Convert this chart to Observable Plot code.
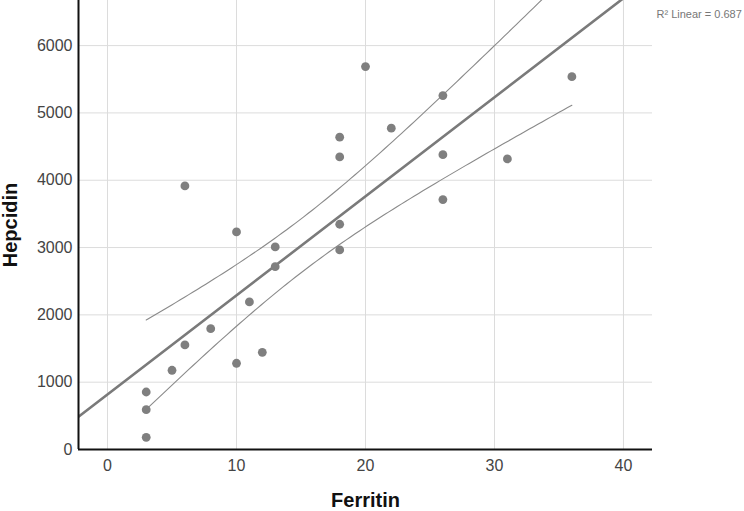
<!DOCTYPE html>
<html>
<head>
<meta charset="utf-8">
<script src="https://cdn.jsdelivr.net/npm/d3@7"></script>
<script src="https://cdn.jsdelivr.net/npm/@observablehq/plot@0.6"></script>
<style>
  html, body { margin: 0; padding: 0; background: #fff; }
  svg { display: block; font-family: "Liberation Sans", Arial, sans-serif; }
</style>
</head>
<body>
<div id="chart"></div>
<script>
// Data
const ferritin = [3, 3, 3, 5, 6, 6, 8, 10, 10, 11, 12, 13, 13, 18, 18, 18, 18, 20, 22, 26, 26, 26, 31, 36];
const hepcidin = [181, 591, 854, 1177, 1553, 3915, 1795, 3232, 1281, 2192, 1444, 3009, 2716, 4639, 4346, 3346, 2964, 5688, 4773, 5257, 4380, 3712, 4316, 5539];
const xTicks = [0, 10, 20, 30, 40];
const yTicks = [0, 1000, 2000, 3000, 4000, 5000, 6000];
const xDomain = [-2.25, 42.25];
const yDomain = [0, 6670];
const xLabel = "Ferritin";
const yLabel = "Hepcidin";
const r2Label = "R\u00B2 Linear = 0.687";
const tCrit = 2.074; // t(0.975, df = 22)

const data = ferritin.map((x, i) => ({x, y: hepcidin[i]}));

// Least-squares fit and 95% mean confidence band
const n = data.length;
const xbar = d3.mean(ferritin), ybar = d3.mean(hepcidin);
const Sxx = d3.sum(ferritin, x => (x - xbar) ** 2);
const Sxy = d3.sum(data, d => (d.x - xbar) * (d.y - ybar));
const b = Sxy / Sxx, a = ybar - b * xbar;
const sse = d3.sum(data, d => (d.y - (a + b * d.x)) ** 2);
const s = Math.sqrt(sse / (n - 2));
const fitLine = xDomain.map(x => ({x, y: a + b * x}));
const [xmin, xmax] = d3.extent(ferritin);
const xs = d3.range(0, 101).map(i => xmin + (xmax - xmin) * i / 100);
const ciUpper = xs.map(x => ({x, y: a + b * x + tCrit * s * Math.sqrt(1 / n + (x - xbar) ** 2 / Sxx)}));
const ciLower = xs.map(x => ({x, y: a + b * x - tCrit * s * Math.sqrt(1 / n + (x - xbar) ** 2 / Sxx)}));

const chart = Plot.plot({
  width: 744,
  height: 511,
  marginLeft: 78,
  marginRight: 92,
  marginTop: 0,
  marginBottom: 62,
  style: {fontFamily: "Liberation Sans, Arial, sans-serif", background: "#fff"},
  x: {domain: xDomain},
  y: {domain: yDomain},
  marks: [
    Plot.gridX(xTicks, {stroke: "#dcdcdc", strokeOpacity: 1}),
    Plot.gridY(yTicks.slice(1), {stroke: "#dcdcdc", strokeOpacity: 1}),
    Plot.axisX(xTicks, {tickSize: 0, tickPadding: 10, fontSize: 16, fill: "#444", label: null, tickFormat: d => String(d)}),
    Plot.axisY(yTicks, {tickSize: 0, tickPadding: 6, fontSize: 16, fill: "#444", label: null, tickFormat: d => String(d)}),
    Plot.line(ciUpper, {x: "x", y: "y", stroke: "#8a8a8a", strokeWidth: 1.1}),
    Plot.line(ciLower, {x: "x", y: "y", stroke: "#8a8a8a", strokeWidth: 1.1}),
    Plot.line(fitLine, {x: "x", y: "y", stroke: "#7a7a7a", strokeWidth: 2.6, clip: true}),
    Plot.dot(data, {x: "x", y: "y", r: 4.4, fill: "#7f7f7f", stroke: "none"}),
    Plot.ruleY([yDomain[0]], {stroke: "#111", strokeWidth: 2}),
    Plot.ruleX([xDomain[0]], {stroke: "#111", strokeWidth: 2}),
    Plot.text([xLabel], {frameAnchor: "bottom", lineAnchor: "middle", text: d => d, dy: 51, fontSize: 20, fontWeight: "bold", fill: "#111"}),
    Plot.text([yLabel], {frameAnchor: "left", textAnchor: "middle", lineAnchor: "middle", text: d => d, dx: -68, rotate: -90, fontSize: 20, fontWeight: "bold", fill: "#111"}),
    Plot.text([r2Label], {frameAnchor: "top-right", text: d => d, dx: 4, dy: 10, textAnchor: "start", fontSize: 11, fill: "#777"})
  ]
});
document.getElementById("chart").appendChild(chart);
</script>
</body>
</html>
